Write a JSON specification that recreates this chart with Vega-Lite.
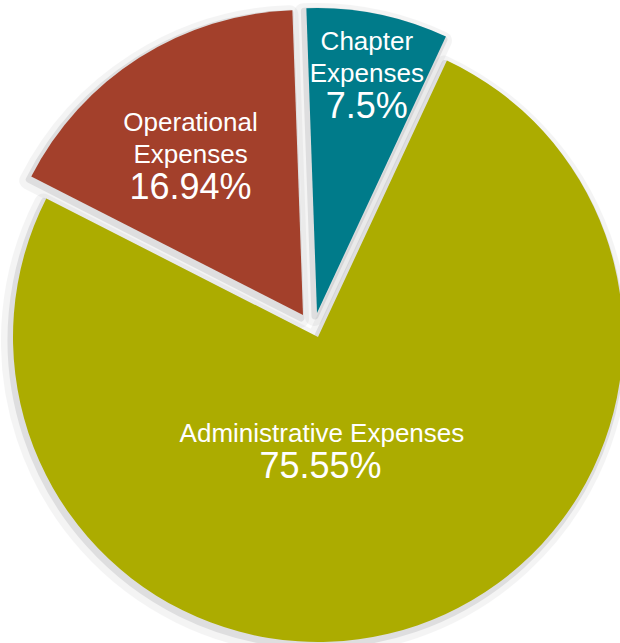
{
  "$schema": "https://vega.github.io/schema/vega-lite/v6.json",
  "width": 620,
  "height": 643,
  "autosize": {"type": "none"},
  "padding": 0,
  "background": "white",
  "config": {"view": {"stroke": null}},
  "data": {
    "values": [
      {"category": "Chapter Expenses", "pct": 7.5, "pctLabel": "7.5%", "rank": 1},
      {"category": "Administrative Expenses", "pct": 75.55, "pctLabel": "75.55%", "rank": 2},
      {"category": "Operational Expenses", "pct": 16.94, "pctLabel": "16.94%", "rank": 3}
    ]
  },
  "encoding": {
    "theta": {"field": "pct", "type": "quantitative", "stack": true, "scale": {"range": [-0.0349, 6.2483]}},
    "order": {"field": "rank", "type": "quantitative"}
  },
  "layer": [
    {
      "mark": {"type": "arc", "outerRadius": 305, "xOffset": 4, "yOffset": -4.5, "fill": "#6f7075", "stroke": "#6f7075", "strokeWidth": 18, "strokeJoin": "round"},
      "encoding": {"opacity": {"condition": {"test": "datum.category === 'Chapter Expenses'", "value": 0.07}, "value": 0}}
    },
    {
      "mark": {"type": "arc", "outerRadius": 305, "xOffset": 5, "yOffset": 19.5, "fill": "#6f7075", "stroke": "#6f7075", "strokeWidth": 18, "strokeJoin": "round"},
      "encoding": {"opacity": {"condition": {"test": "datum.category === 'Administrative Expenses'", "value": 0.07}, "value": 0}}
    },
    {
      "mark": {"type": "arc", "outerRadius": 305, "xOffset": -10, "yOffset": -2.5, "fill": "#6f7075", "stroke": "#6f7075", "strokeWidth": 18, "strokeJoin": "round"},
      "encoding": {"opacity": {"condition": {"test": "datum.category === 'Operational Expenses'", "value": 0.07}, "value": 0}}
    },
    {
      "mark": {"type": "arc", "outerRadius": 305, "xOffset": 5, "yOffset": -5.5, "fill": "#6f7075", "stroke": "#6f7075", "strokeWidth": 7, "strokeJoin": "round"},
      "encoding": {"opacity": {"condition": {"test": "datum.category === 'Chapter Expenses'", "value": 0.16}, "value": 0}}
    },
    {
      "mark": {"type": "arc", "outerRadius": 305, "xOffset": 6, "yOffset": 18.5, "fill": "#6f7075", "stroke": "#6f7075", "strokeWidth": 7, "strokeJoin": "round"},
      "encoding": {"opacity": {"condition": {"test": "datum.category === 'Administrative Expenses'", "value": 0.16}, "value": 0}}
    },
    {
      "mark": {"type": "arc", "outerRadius": 305, "xOffset": -9, "yOffset": -3.5, "fill": "#6f7075", "stroke": "#6f7075", "strokeWidth": 7, "strokeJoin": "round"},
      "encoding": {"opacity": {"condition": {"test": "datum.category === 'Operational Expenses'", "value": 0.16}, "value": 0}}
    },
    {
      "mark": {"type": "arc", "outerRadius": 305, "xOffset": 8, "yOffset": 15.5, "fill": "#acac00"},
      "encoding": {"opacity": {"condition": {"test": "datum.category === 'Administrative Expenses'", "value": 1}, "value": 0}}
    },
    {
      "mark": {"type": "arc", "outerRadius": 305, "xOffset": -7, "yOffset": -6.5, "fill": "#a3402b"},
      "encoding": {"opacity": {"condition": {"test": "datum.category === 'Operational Expenses'", "value": 1}, "value": 0}}
    },
    {
      "mark": {"type": "arc", "outerRadius": 305, "xOffset": 7, "yOffset": -8.5, "fill": "#007b8a"},
      "encoding": {"opacity": {"condition": {"test": "datum.category === 'Chapter Expenses'", "value": 1}, "value": 0}}
    },
    {
      "mark": {"type": "text", "radius": 250, "xOffset": 7, "yOffset": -8.5, "dx": 0, "dy": -26.5, "fontSize": 26, "font": "Liberation Sans", "fill": "white", "align": "center", "baseline": "middle", "lineBreak": " ", "lineHeight": 32},
      "encoding": {"text": {"condition": {"test": "datum.category === 'Chapter Expenses'", "field": "category"}, "value": ""}}
    },
    {
      "mark": {"type": "text", "radius": 250, "xOffset": 7, "yOffset": -8.5, "dx": 0, "dy": 39, "fontSize": 36, "font": "Liberation Sans", "fill": "white", "align": "center", "baseline": "middle"},
      "encoding": {"text": {"condition": {"test": "datum.category === 'Chapter Expenses'", "field": "pctLabel"}, "value": ""}}
    },
    {
      "mark": {"type": "text", "radius": 200, "xOffset": -7, "yOffset": -6.5, "dx": -5, "dy": -23, "fontSize": 26, "font": "Liberation Sans", "fill": "white", "align": "center", "baseline": "middle", "lineBreak": " ", "lineHeight": 32},
      "encoding": {"text": {"condition": {"test": "datum.category === 'Operational Expenses'", "field": "category"}, "value": ""}}
    },
    {
      "mark": {"type": "text", "radius": 200, "xOffset": -7, "yOffset": -6.5, "dx": -5, "dy": 42, "fontSize": 36, "font": "Liberation Sans", "fill": "white", "align": "center", "baseline": "middle"},
      "encoding": {"text": {"condition": {"test": "datum.category === 'Operational Expenses'", "field": "pctLabel"}, "value": ""}}
    },
    {
      "mark": {"type": "text", "radius": 100, "xOffset": 8, "yOffset": 15.5, "dx": -28.6, "dy": 2, "fontSize": 26, "font": "Liberation Sans", "fill": "white", "align": "center", "baseline": "middle"},
      "encoding": {"text": {"condition": {"test": "datum.category === 'Administrative Expenses'", "field": "category"}, "value": ""}}
    },
    {
      "mark": {"type": "text", "radius": 100, "xOffset": 8, "yOffset": 15.5, "dx": -30, "dy": 35, "fontSize": 36, "font": "Liberation Sans", "fill": "white", "align": "center", "baseline": "middle"},
      "encoding": {"text": {"condition": {"test": "datum.category === 'Administrative Expenses'", "field": "pctLabel"}, "value": ""}}
    }
  ]
}
